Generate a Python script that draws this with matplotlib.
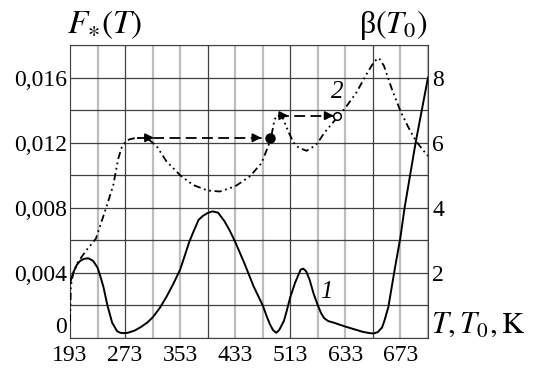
import numpy as np
import matplotlib.pyplot as plt

plt.rcParams['font.family'] = ['Liberation Serif', 'DejaVu Serif']
plt.rcParams['mathtext.fontset'] = 'stix'

# curve 1: F*(T), left axis
T1 = [193, 196, 198.6, 203, 207.8, 213, 219.4, 226.6, 233, 237, 241.4, 247.4,
      254.2, 261.4, 266, 271, 277, 287, 296.2, 305, 313, 323, 333, 343, 353,
      360, 366.2, 373, 379.8, 386, 393, 399.8, 408, 417, 425, 433, 446.2,
      459.8, 473, 479, 483.4, 488, 492.6, 497, 503.8, 508, 513, 520, 525, 528,
      531.8, 536, 541, 547, 553, 558, 562.2, 568, 576.2, 593, 618.2, 628,
      634.2, 640, 646.2, 650, 655.4, 664.6, 673, 679, 695, 713]
F1 = [0.00336, 0.0038, 0.0041, 0.0045, 0.00474, 0.00486, 0.0049, 0.00474,
      0.00432, 0.0038, 0.00316, 0.002, 0.00094, 0.00042, 0.00032, 0.0003,
      0.00032, 0.00046, 0.00068, 0.00094, 0.00126, 0.00182, 0.00252, 0.00332,
      0.0042, 0.0051, 0.0059, 0.0066, 0.00726, 0.0075, 0.00768, 0.00778,
      0.0077, 0.0072, 0.0066, 0.0059, 0.0046, 0.00316, 0.002, 0.0013, 0.00084,
      0.00048, 0.00032, 0.0005, 0.00106, 0.0017, 0.00252, 0.0034, 0.0039,
      0.0042, 0.00426, 0.0041, 0.00358, 0.0027, 0.002, 0.0015, 0.00122,
      0.00104, 0.00094, 0.0007, 0.00038, 0.0003, 0.00028, 0.00036, 0.00064,
      0.0011, 0.0019, 0.0042, 0.0062, 0.008, 0.012, 0.016]

# curve 2: beta(T0), right axis
T2 = [193, 194.2, 197.8, 203.4, 217, 230.6, 245, 255.8, 263, 268, 273, 279,
      285, 304.2, 318.6, 333, 353, 371.8, 393, 410.6, 433, 454.6, 471.4, 481,
      485, 490.2, 495, 501.8, 511, 517.8, 525, 536.6, 548.2, 553, 562.2, 581,
      593, 609, 625, 635, 641.8, 649, 660.6, 673, 683.8, 695.4, 707, 713]
B2 = [0.5, 1.6, 2.0, 2.3, 2.7, 3.05, 3.97, 4.69, 5.5, 5.85, 6.0, 6.1, 6.13,
      6.15, 5.9, 5.43, 5.0, 4.7, 4.53, 4.5, 4.66, 4.97, 5.38, 5.9, 6.15, 6.72,
      6.85, 6.77, 6.3, 6.0, 5.85, 5.75, 5.9, 6.0, 6.3, 6.77, 7.07, 7.54, 8.15,
      8.5, 8.6, 8.36, 7.64, 6.97, 6.5, 6.05, 5.74, 5.59]

# jump lines (dashed with arrows)
jump1_T = [290, 483.4]
jump1_B = 6.15
jump1_arrows = [315, 471]
jump2_T = [495, 581]
jump2_B = 6.83
jump2_arrows = [510, 576]

xticks = [193, 273, 353, 433, 513, 593, 673]
xticklabels = ['193', '273', '353', '433', '513', '633', '673']
yticks = [0, 0.004, 0.008, 0.012, 0.016]
yticklabels = ['0', '0,004', '0,008', '0,012', '0,016']
y2ticks = [2, 4, 6, 8]

fig = plt.figure(figsize=(5.43, 3.70), dpi=100)
ax = fig.add_axes([70 / 543, 32 / 370, 358 / 543, 293 / 370])
ax.set_xlim(193, 713)
ax.set_ylim(0, 0.018)

# grid
for i, x in enumerate(np.arange(193, 714, 40)):
    if i % 3 == 2:
        ax.axvline(x, color='#404040', lw=0.9, zorder=0)
    else:
        ax.axvline(x, color='#bdbdbd', lw=1.6, zorder=0)
for y in np.arange(0, 0.0181, 0.002):
    ax.axhline(y, color='#404040', lw=0.9, zorder=0)

ax.plot(T1, F1, color='black', lw=1.4, zorder=3)

ax.set_xticks(xticks)
ax.set_xticklabels(xticklabels)
ax.set_yticks(yticks)
ax.set_yticklabels(yticklabels)
ax.tick_params(length=0, labelsize=17, pad=2)
ax.tick_params(axis='x', pad=5)
ax.get_yticklabels()[0].set_va('bottom')
for s in ax.spines.values():
    s.set_color('#404040')

ax2 = ax.twinx()
ax2.set_ylim(0, 9)
ax2.set_yticks(y2ticks)
ax2.tick_params(length=0, labelsize=17, pad=3)
for s in ax2.spines.values():
    s.set_visible(False)

ax2.plot(T2, B2, color='black', lw=1.3, dashes=(4, 2, 1, 2, 1, 2), zorder=3)

ax2.plot(jump1_T, [jump1_B] * 2, color='black', lw=1.3, dashes=(6, 3), zorder=4)
ax2.plot(jump2_T, [jump2_B] * 2, color='black', lw=1.3, dashes=(6, 3), zorder=4)
for xa in jump1_arrows:
    ax2.annotate('', xy=(xa, jump1_B), xytext=(xa - 10, jump1_B),
                 arrowprops=dict(arrowstyle='-|>', color='black', lw=1.2,
                                 mutation_scale=13, shrinkA=0, shrinkB=0))
for xa in jump2_arrows:
    ax2.annotate('', xy=(xa, jump2_B), xytext=(xa - 10, jump2_B),
                 arrowprops=dict(arrowstyle='-|>', color='black', lw=1.2,
                                 mutation_scale=13, shrinkA=0, shrinkB=0))
ax2.plot(jump1_T[1], jump1_B, 'o', color='black', ms=6.5, zorder=5)
ax2.plot(jump2_T[1], jump2_B, 'o', mfc='white', mec='black', mew=1.1, ms=5.5, zorder=5)

ax.text(565, 0.0028, '1', fontsize=18, style='italic', ha='center', va='center')
ax2.text(581, 7.55, '2', fontsize=18, style='italic', ha='center', va='center')

fig.text(67 / 543, 1 - 33 / 370, r'$F_{\ast}(T)$', fontsize=24, ha='left', va='baseline')
fig.text(427 / 543, 1 - 33 / 370, r'β$(T_0)$', fontsize=23, ha='right', va='baseline')
fig.text(431 / 543, 1 - 333 / 370, r'$T, T_0, \mathrm{K}$', fontsize=22, ha='left', va='baseline')

fig.savefig('out.png', dpi=100)
